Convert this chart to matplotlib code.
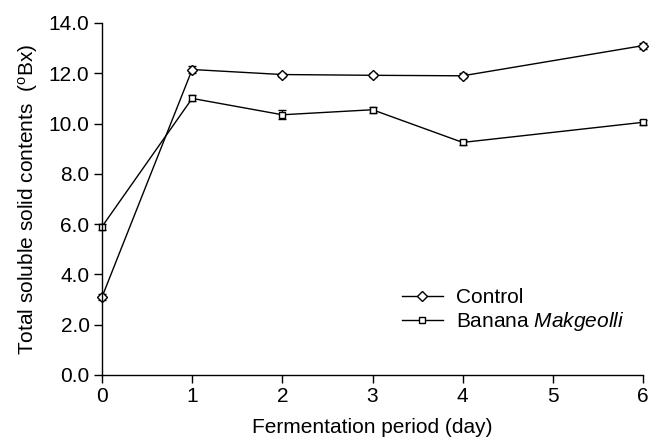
import matplotlib
matplotlib.use("Agg")
import matplotlib.pyplot as plt

plt.rcParams["font.family"] = ["Liberation Sans", "DejaVu Sans"]
plt.rcParams["mathtext.fontset"] = "custom"
plt.rcParams["mathtext.rm"] = "Liberation Sans"
plt.rcParams["mathtext.it"] = "Liberation Sans:italic"

days = [0, 1, 2, 3, 4, 6]
control = [3.1, 12.15, 11.95, 11.92, 11.9, 13.1]
control_err = [0.12, 0.12, 0.08, 0.08, 0.1, 0.12]
banana = [5.9, 11.0, 10.35, 10.55, 9.25, 10.05]
banana_err = [0.12, 0.12, 0.18, 0.12, 0.1, 0.1]

fig = plt.figure(figsize=(6.49, 4.41), dpi=100)
ax = fig.add_axes([102 / 649, 1 - 375 / 441, (643 - 102) / 649, (375 - 23) / 441])

ax.errorbar(days, control, yerr=control_err, color="black", lw=1.0,
            marker="D", ms=5, mfc="white", mec="black", mew=1.0,
            capsize=3, elinewidth=0.9, label="Control", clip_on=False)
ax.errorbar(days, banana, yerr=banana_err, color="black", lw=1.0,
            marker="s", ms=5, mfc="white", mec="black", mew=1.0,
            capsize=3, elinewidth=0.9, label="Banana $\\it{Makgeolli}$",
            clip_on=False)

ax.set_xlim(0, 6)
ax.set_ylim(0, 14)
ax.set_xticks(range(7))
ax.set_yticks([0, 2, 4, 6, 8, 10, 12, 14])
ax.set_yticklabels([f"{v:.1f}" for v in [0, 2, 4, 6, 8, 10, 12, 14]])
ax.spines["top"].set_visible(False)
ax.spines["right"].set_visible(False)
ax.spines["left"].set_linewidth(1.0)
ax.spines["bottom"].set_linewidth(1.0)
ax.tick_params(direction="out", length=6, width=1.0, labelsize=15, pad=3)
ax.set_xlabel("Fermentation period (day)", fontsize=15, labelpad=8)
ax.set_ylabel("Total soluble solid contents  ($^{\\mathrm{o}}$Bx)", fontsize=15,
              labelpad=6)

handles, labels = ax.get_legend_handles_labels()
handles = [h[0] for h in handles]
ax.legend(handles, labels, loc="lower right", bbox_to_anchor=(1.0, 0.065),
          frameon=False, fontsize=15, handlelength=2.0, handletextpad=0.6,
          labelspacing=0.15)

fig.savefig("out.png", dpi=100)
